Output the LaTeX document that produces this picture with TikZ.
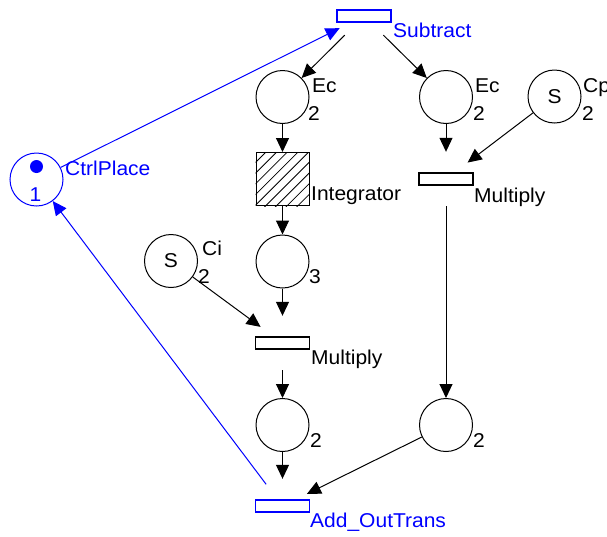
\documentclass[tikz,border=0pt]{standalone}
\usepackage{fontspec}
\setmainfont{Liberation Sans}[FakeStretch=1.05]
\usetikzlibrary{arrows.meta}
\definecolor{netblue}{RGB}{0,0,255}

\begin{document}
\begin{tikzpicture}[x=1pt,y=-1pt,
  font=\fontsize{20}{24}\selectfont,
  place/.style={circle,draw,line width=1pt,minimum size=53pt,inner sep=0pt},
  trans/.style={rectangle,draw,line width=1.2pt,minimum width=54pt,minimum height=12pt,inner sep=0pt},
  gapzone/.style={circle,minimum size=54pt,inner sep=0pt},
  arc/.style={line width=1pt,-{Triangle[width=13pt,length=14pt]}},
  lbl/.style={anchor=base west,inner sep=0pt},
  ctl/.style={netblue,draw=netblue},
]
% canvas
\useasboundingbox (0,0) rectangle (607,536);
\fill[white] (0,0) rectangle (607,536);

% control part
\node[place,ctl] (ctrl) at (36.5,179.5) {};
\node[circle,fill=netblue,minimum size=13pt,inner sep=0pt] (tok) at (36.5,166.5) {};
\node[anchor=base,inner sep=0pt,netblue] (ctrlm) at (35.5,201) {1};
\node[lbl,netblue] (ctrln) at (65,175) {CtrlPlace};

\node[trans,ctl] (sub) at (364,16) {};
\node[lbl,netblue] (subn) at (393,37) {Subtract};

% error places
\node[place] (ecl) at (282.5,97) {};
\node[lbl] (ecln) at (312,92) {Ec};
\node[lbl] (eclm) at (308,120) {2};
\node[place] (ecr) at (446,97) {};
\node[lbl] (ecrn) at (475,92) {Ec};
\node[lbl] (ecrm) at (473,120) {2};
\node[place] (cp) at (554.5,96.5) {S};
\node[lbl] (cpn) at (583,92) {Cp};
\node[lbl] (cpm) at (582,120) {2};

% integrator (hatched substitution transition)
\node[rectangle,draw,line width=1pt,minimum size=53pt,inner sep=0pt] (integ) at (282.5,179) {};
\begin{scope}
  \clip (integ.south west) rectangle (integ.north east);
  \foreach \c in {0,...,8}
    \draw[line width=0.8pt] ({418+10.7*\c-140},140) -- ({418+10.7*\c-220},220);
\end{scope}
\node[lbl] (integn) at (311,200) {Integrator};

% integral branch
\node[place] (p3) at (282.5,261.5) {};
\node[lbl] (p3m) at (309,283) {3};
\node[place] (ci) at (171,261) {S};
\node[lbl] (cin) at (202,255) {Ci};
\node[lbl] (cim) at (198,283) {2};
\node[trans] (mulm) at (282.5,343) {};
\node[lbl] (mulmn) at (311,364) {Multiply};
\node[place] (pl) at (282.5,425) {};
\node[lbl] (plm) at (310,447) {2};

% proportional branch
\node[trans] (mulr) at (446,179) {};
\node[lbl] (mulrn) at (474,202) {Multiply};
\node[place] (pr) at (446,425) {};
\node[lbl] (prm) at (473,447) {2};

% output
\node[trans,ctl] (add) at (282.5,506) {};
\node[lbl,netblue] (addn) at (310,527) {Add\_OutTrans};

% clearance zones round the transitions, where arcs stop
\node[gapzone] (subg) at (sub) {};
\node[gapzone] (mulmg) at (mulm) {};
\node[gapzone] (mulrg) at (mulr) {};
\node[gapzone] (addg) at (add) {};

% arcs
\draw[arc,ctl] (ctrl) -- (subg);
\draw[arc] (subg) -- (ecl);
\draw[arc] (subg) -- (ecr);
\draw[arc] (ecl) -- (integ);
\draw[arc] (integ) -- (p3);
\draw[arc] (ecr) -- (mulrg);
\draw[arc] (cp) -- (mulrg);
\draw[arc] (mulrg) -- (pr);
\draw[arc] (p3) -- (mulmg);
\draw[arc] (ci) -- (mulmg);
\draw[arc] (mulmg) -- (pl);
\draw[arc] (pl) -- (addg);
\draw[arc] (pr) -- (addg);
\draw[arc,ctl] (addg) -- (ctrl);
\end{tikzpicture}
\end{document}
